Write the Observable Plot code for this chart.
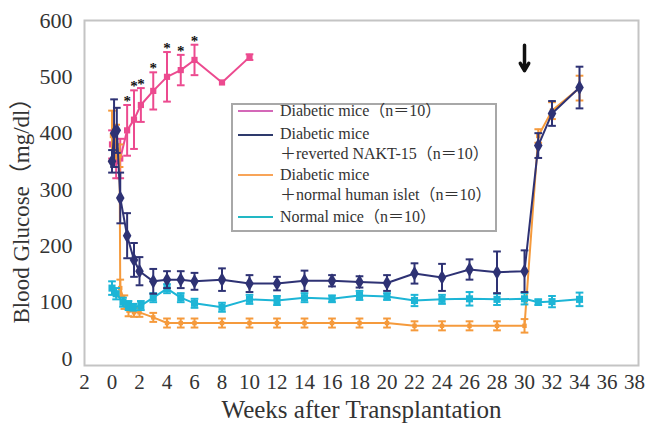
<!DOCTYPE html>
<html><head><meta charset="utf-8">
<script src="https://cdn.jsdelivr.net/npm/d3@7"></script>
<script src="https://cdn.jsdelivr.net/npm/@observablehq/plot@0.6"></script>
<style>
body{margin:0;background:#fff;}
#wrap{position:relative;width:646px;height:436px;font-family:"Liberation Serif","Noto Sans CJK JP",serif;color:#333;}
#legend{position:absolute;left:231px;top:103px;width:262px;height:125px;border:2px solid #a8a8a8;background:#fff;font-size:16px;}
.sw{position:absolute;left:5px;width:35px;height:2px;}
.tx{position:absolute;left:47px;white-space:nowrap;line-height:20.5px;}
</style></head>
<body>
<div id="wrap">
<div id="chart"></div>
<div id="legend"></div>
</div>
<script>
// ---- data ----
const xTicks = [-2,0,2,4,6,8,10,12,14,16,18,20,22,24,26,28,30,32,34,36,38];
const xTickLabels = ["2","0","2","4","6","8","10","12","14","16","18","20","22","24","26","28","30","32","34","36","38"];
const yTicks = [0,100,200,300,400,500,600];

const seriesNames = ["Diabetic mice（n＝10）","Diabetic mice\n＋reverted NAKT-15（n＝10）","Diabetic mice\n＋normal human islet（n＝10）","Normal mice（n＝10）"];
const seriesColors = ["#ec4a8f","#2e3274","#f59a3c","#1db5d6"];
const legendColors = ["#d468b8","#2e3a6c","#f8a458","#22b8c4"];

const pinkWeeks = [0,0.3,0.6,1.1,1.6,2.1,3,4,5,6,8,10];
const pinkValues = [380,350,355,405,424,450,475,500,512,530,490,535];
const pinkErr = [25,30,35,45,52,30,33,44,27,27,0,5];
const pinkStar = [false,false,false,true,true,true,true,true,true,true,false,false];

const navyWeeks = [0,0.15,0.35,0.6,1.1,1.6,2.0,3,4,5,6,8,10,12,14,16,18,20,22,24,26,28,30,31,32,34];
const navyValues = [350,400,405,285,218,175,155,137,140,140,137,140,133,133,138,138,136,134,151,144,158,153,155,378,435,481];
const navyErr = [20,60,40,45,40,30,25,22,15,15,15,20,15,12,18,10,10,14,18,24,18,37,37,22,22,37];

const orangeWeeks = [0,0.3,0.55,0.6,0.9,1.2,1.6,2.0,3,4,5,6,8,10,12,14,16,18,20,22,24,26,28,30,31,32,34];
const orangeValues = [395,385,360,125,100,85,82,82,73,63,63,63,63,63,63,63,63,63,63,58,58,58,58,58,395,440,480];
const orangeErr = [45,30,20,15,12,10,8,8,8,8,8,8,8,8,8,8,8,8,8,8,8,8,8,12,12,15,22];

const cyanWeeks = [0,0.3,0.8,1.2,1.55,2.1,3,4,5,6,8,10,12,14,16,18,20,22,24,26,28,30,31,32,34];
const cyanValues = [125,115,100,94,91,94,108,124,108,98,91,105,103,108,106,112,110,103,105,106,105,106,100,101,105];
const cyanErr = [12,10,8,8,6,8,8,8,8,8,8,8,8,8,6,8,6,10,8,12,10,10,5,10,12];

const arrowWeek = [30];
const arrowFrom = [556];
const arrowTo = [511];

// ---- build ----
function rows(ws, vs, es, extra) {
  return ws.map((w, i) => ({w, v: vs[i], lo: vs[i] - es[i], hi: vs[i] + es[i], e: es[i], star: extra ? extra[i] : false}));
}
const pink = rows(pinkWeeks, pinkValues, pinkErr, pinkStar);
const navy = rows(navyWeeks, navyValues, navyErr);
const orange = rows(orangeWeeks, orangeValues, orangeErr);
const cyan = rows(cyanWeeks, cyanValues, cyanErr);
const arrows = arrowWeek.map((w, i) => ({w, from: arrowFrom[i], to: arrowTo[i]}));

const capW = 0.28;
function seriesMarks(data, color, symbol, r) {
  const eb = data.filter(d => d.e > 0);
  return [
    Plot.ruleX(eb, {x: "w", y1: "lo", y2: "hi", stroke: color, strokeWidth: 2}),
    Plot.link(eb, {x1: d => d.w - capW, x2: d => d.w + capW, y1: "hi", y2: "hi", stroke: color, strokeWidth: 2}),
    Plot.link(eb, {x1: d => d.w - capW, x2: d => d.w + capW, y1: "lo", y2: "lo", stroke: color, strokeWidth: 2}),
    Plot.line(data, {x: "w", y: "v", stroke: color, strokeWidth: 2}),
    Plot.dot(data, {x: "w", y: "v", fill: color, symbol, r})
  ];
}

const chart = Plot.plot({
  width: 646, height: 436,
  marginLeft: 84, marginRight: 8, marginTop: 20, marginBottom: 71,
  style: {fontFamily: '"Liberation Serif","Noto Sans CJK JP",serif', color: "#333", background: "#fff"},
  x: {domain: [-2, 38.29]},
  y: {domain: [-12.4, 600]},
  marks: [
    Plot.frame({stroke: "#c4c4c4", strokeWidth: 2}),
    Plot.axisX({ticks: xTicks, tickSize: 0, tickPadding: 9, fontSize: 21, tickFormat: (d) => xTickLabels[xTicks.indexOf(d)], label: null}),
    Plot.axisY({ticks: yTicks, tickSize: 0, tickPadding: 12, fontSize: 22, label: null}),
    Plot.text(["Weeks after Transplantation"], {frameAnchor: "bottom", dy: 52, fontSize: 25, fill: "#333", textAnchor: "middle"}),
    Plot.text(["Blood Glucose（mg/dl）"], {frameAnchor: "left", dx: -63, dy: 12, rotate: -90, fontSize: 23, fill: "#333", textAnchor: "middle"}),
    ...seriesMarks(pink, seriesColors[0], "square", 3.5),
    ...seriesMarks(orange, seriesColors[2], "square", 2.5),
    ...seriesMarks(cyan, seriesColors[3], "square", 4),
    ...seriesMarks(navy, seriesColors[1], "diamond", 4.5),
    Plot.text(pink.filter(d => d.star), {x: "w", y: "hi", text: () => "*", dy: -4, fontSize: 15, fontWeight: "bold", fill: "#111"}),
    Plot.arrow(arrows, {x1: "w", x2: "w", y1: "from", y2: "to", stroke: "#111", strokeWidth: 3.5, headLength: 8})
  ]
});
document.getElementById("chart").appendChild(chart);

// legend
const legend = document.getElementById("legend");
const lineY = [6, 30, 70, 112];
const textTop = [-4.5, 18.5, 59.5, 101.5];
seriesNames.forEach((name, i) => {
  const sw = document.createElement("div");
  sw.className = "sw";
  sw.style.top = (lineY[i] - 1) + "px";
  sw.style.background = legendColors[i];
  legend.appendChild(sw);
  const tx = document.createElement("div");
  tx.className = "tx";
  tx.style.top = textTop[i] + "px";
  tx.innerHTML = name.split("\n").join("<br>");
  legend.appendChild(tx);
});
</script>
</body></html>
